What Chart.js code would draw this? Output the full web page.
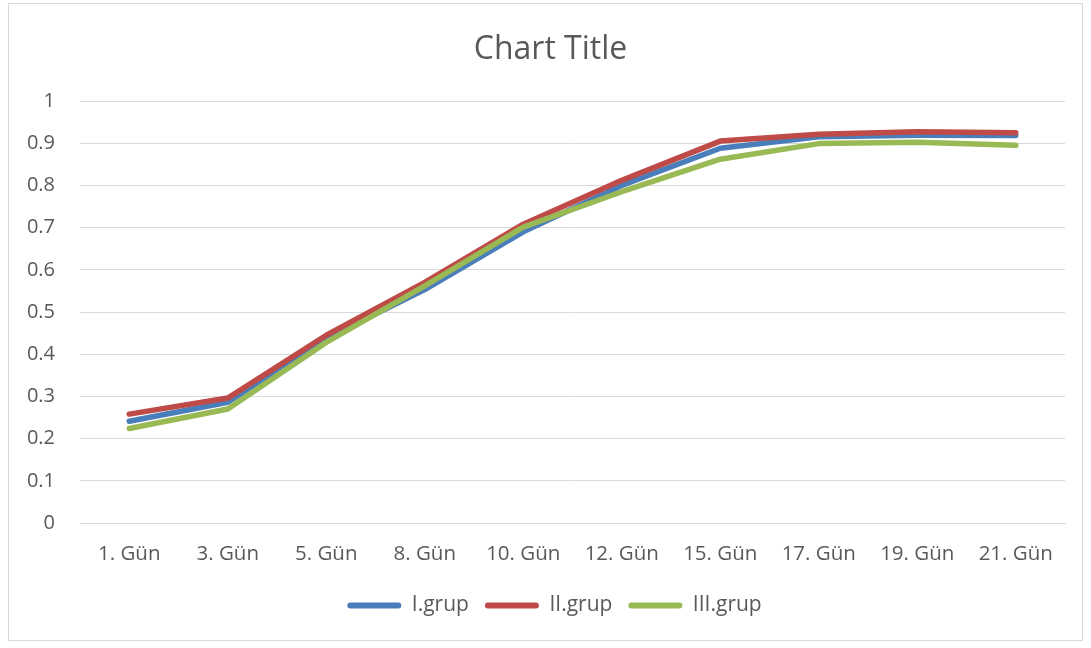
<!DOCTYPE html>
<html>
<head>
<meta charset="utf-8">
<script src="https://cdn.jsdelivr.net/npm/chart.js@4.4.0/dist/chart.umd.min.js"></script>
<style>
  body { margin: 0; background: #fff; }
  #frame { position: absolute; left: 8px; top: 3px; width: 1073px; height: 636px; border: 1px solid #d9d9d9; }
  #wrap { position: absolute; left: 0; top: 0; width: 1091px; height: 648px; }
</style>
</head>
<body>
<div id="frame"></div>
<div id="wrap"><canvas id="grafico" width="1091" height="648"></canvas></div>
<script>
// Günlere göre grup değerleri
var gunler = ["1. Gün", "3. Gün", "5. Gün", "8. Gün", "10. Gün", "12. Gün", "15. Gün", "17. Gün", "19. Gün", "21. Gün"];
var grup1 = [0.241, 0.286, 0.437, 0.553, 0.690, 0.800, 0.888, 0.915, 0.919, 0.918];
var grup2 = [0.258, 0.296, 0.445, 0.570, 0.708, 0.812, 0.905, 0.921, 0.927, 0.925];
var grup3 = [0.224, 0.270, 0.428, 0.562, 0.701, 0.785, 0.862, 0.899, 0.902, 0.895];
var yTicks = [0, 0.1, 0.2, 0.3, 0.4, 0.5, 0.6, 0.7, 0.8, 0.9, 1];

var yazi = "'Open Sans', 'Noto Sans', sans-serif";
var gri = "#595959";

function seri(ad, veri, renk, sira) {
    return {
        label: ad,
        data: veri,
        borderColor: renk,
        backgroundColor: renk,
        borderWidth: 5.5,
        pointRadius: 0,
        tension: 0,
        borderCapStyle: 'round',
        borderJoinStyle: 'round',
        order: sira
    };
}

// başlık ve açıklamayı biraz sağa kaydır
function kaydir(kutu, dx) {
    if (!kutu) return;
    kutu.left += dx;
    kutu.right += dx;
}

var ortala = {
    id: 'ortala',
    afterLayout: function(chart) {
        kaydir(chart.titleBlock, 18);
        kaydir(chart.legend, 22);
    }
};

new Chart(document.getElementById("grafico"), {
    type: 'line',
    data: {
        labels: gunler,
        datasets: [
            seri("I.grup", grup1, "#4a7ebb", 3),
            seri("II.grup", grup2, "#be4b48", 2),
            seri("III.grup", grup3, "#98b954", 1)
        ]
    },
    plugins: [ortala],
    options: {
        responsive: false,
        animation: false,
        layout: { padding: { left: 0, right: 26, top: 0, bottom: 22 } },
        plugins: {
            title: {
                display: true,
                text: 'Chart Title',
                color: gri,
                font: { family: yazi, size: 32, weight: 'normal' },
                padding: { top: 31, bottom: 31.6 }
            },
            legend: {
                position: 'bottom',
                labels: {
                    color: gri,
                    font: { family: yazi, size: 21 },
                    boxWidth: 54,
                    boxHeight: 6,
                    useBorderRadius: true,
                    borderRadius: 3,
                    padding: 16,
                    sort: function(a, b) { return a.datasetIndex - b.datasetIndex; },
                    generateLabels: function(chart) {
                        // çizgi kalınlığı olmadan düz, yuvarlak uçlu şerit
                        var ogeler = Chart.defaults.plugins.legend.labels.generateLabels(chart);
                        ogeler.forEach(function(o) { o.lineWidth = 0; });
                        return ogeler;
                    }
                }
            },
            tooltip: { enabled: false }
        },
        scales: {
            x: {
                offset: true,
                afterFit: function(eksen) { eksen.height = 56; },
                grid: { display: false, drawTicks: false },
                border: { color: "#d9d9d9" },
                ticks: { color: gri, font: { family: yazi, size: 20.5 }, padding: 19, maxRotation: 0 }
            },
            y: {
                min: 0,
                max: 1,
                afterBuildTicks: function(eksen) {
                    eksen.ticks = yTicks.map(function(v) { return { value: v }; });
                },
                afterFit: function(eksen) { eksen.width = 80; },
                grid: { color: "#d9d9d9", drawTicks: false },
                border: { display: false },
                ticks: {
                    color: gri,
                    font: { family: yazi, size: 20 },
                    padding: 25,
                    callback: function(v) { return String(v); }
                }
            }
        }
    }
});
</script>
</body>
</html>
